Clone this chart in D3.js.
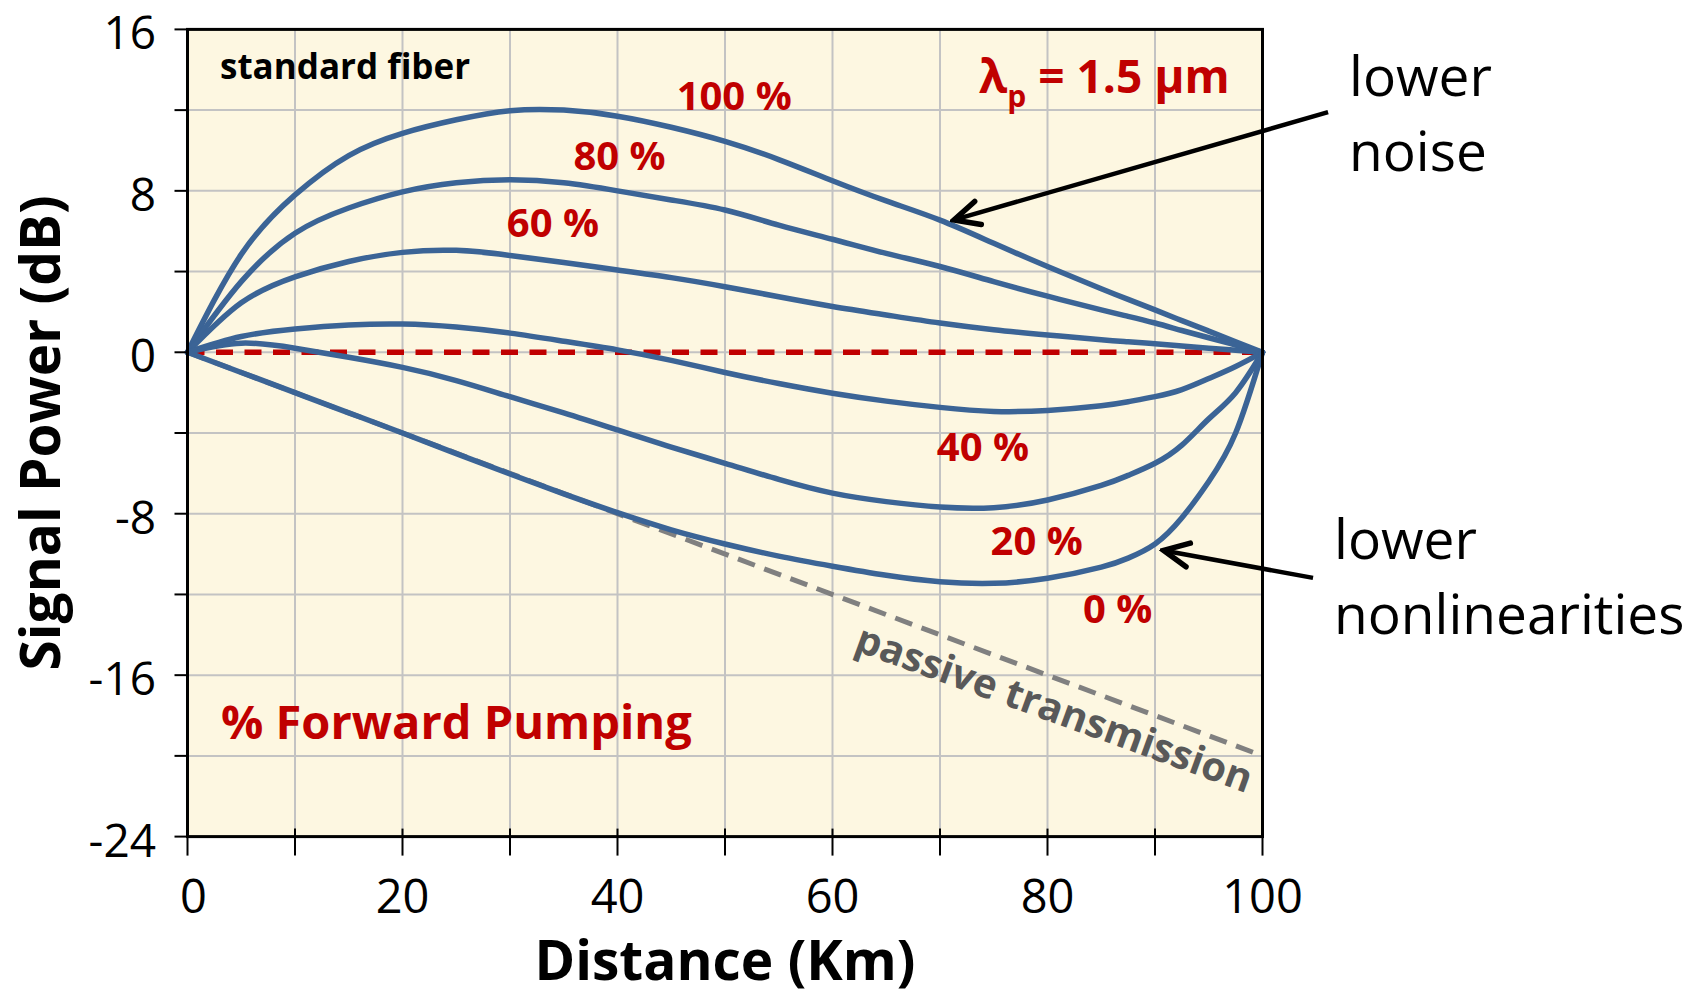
<!DOCTYPE html>
<html>
<head>
<meta charset="utf-8">
<script src="https://cdn.jsdelivr.net/npm/d3@7"></script>
<style>
  html, body { margin: 0; padding: 0; background: #fff; }
  svg text { font-family: "Open Sans", sans-serif; }
</style>
</head>
<body>
<svg id="chart" width="1693" height="997"></svg>
<script>
"use strict";

// distance along the fiber (km)
const distance = [0, 5, 10, 15, 20, 25, 30, 35, 40, 45, 50, 55, 60, 65, 70, 75, 80, 85, 87.5, 90, 92.5, 95, 97.5, 100];

// signal power (dB) for each share of forward pumping
const fwd100 = [0, 4.85, 7.8, 9.75, 10.85, 11.52, 11.97, 12.0, 11.7, 11.15, 10.45, 9.55, 8.5, 7.5, 6.55, 5.4, 4.25, 3.15, 2.62, 2.1, 1.57, 1.05, 0.52, 0];
const fwd80  = [0, 3.5, 5.9, 7.15, 7.95, 8.4, 8.55, 8.4, 8.0, 7.55, 7.05, 6.3, 5.6, 4.9, 4.25, 3.5, 2.78, 2.1, 1.78, 1.45, 1.08, 0.72, 0.36, 0];
const fwd60  = [0, 2.45, 3.74, 4.5, 4.95, 5.05, 4.8, 4.45, 4.08, 3.7, 3.25, 2.75, 2.27, 1.85, 1.45, 1.12, 0.86, 0.62, 0.52, 0.42, 0.31, 0.2, 0.1, 0];
const fwd40  = [0, 0.78, 1.15, 1.35, 1.4, 1.25, 0.95, 0.55, 0.12, -0.4, -1.0, -1.55, -2.03, -2.42, -2.73, -2.93, -2.88, -2.65, -2.45, -2.2, -1.85, -1.3, -0.7, 0];
const fwd20  = [0, 0.45, 0.2, -0.25, -0.75, -1.4, -2.2, -3.0, -3.85, -4.7, -5.5, -6.3, -6.98, -7.4, -7.67, -7.7, -7.32, -6.6, -6.1, -5.5, -4.6, -3.3, -2.0, 0];
const fwd0   = [0, -1.0, -2.0, -3.0, -4.0, -5.02, -6.03, -7.02, -7.95, -8.8, -9.5, -10.1, -10.6, -11.05, -11.37, -11.45, -11.2, -10.65, -10.2, -9.5, -8.2, -6.4, -4.0, 0];

const seriesNames = ["100 %", "80 %", "60 %", "40 %", "20 %", "0 %"];
const seriesValues = [fwd100, fwd80, fwd60, fwd40, fwd20, fwd0];

// passive transmission (0.2 dB/km loss) and the 0 dB reference
const passiveDistance = [0, 100];
const passivePower = [0, -20];
const referencePower = [0, 0];

const xTicks = [0, 10, 20, 30, 40, 50, 60, 70, 80, 90, 100];
const xTickLabels = [0, 20, 40, 60, 80, 100];
const yTicks = [-24, -20, -16, -12, -8, -4, 0, 4, 8, 12, 16];
const yTickLabels = [-24, -16, -8, 0, 8, 16];

const svg = d3.select("#chart");

const plotLeft = 187.5, plotRight = 1262.5, plotTop = 29.4, plotBottom = 836.6;
const x = d3.scaleLinear().domain([0, 100]).range([plotLeft, plotRight]);
const y = d3.scaleLinear().domain([-24, 16]).range([plotBottom, plotTop]);

const blue = "#3b6496";
const red = "#c00000";

// plot background
svg.append("rect")
  .attr("x", plotLeft).attr("y", plotTop)
  .attr("width", plotRight - plotLeft).attr("height", plotBottom - plotTop)
  .attr("fill", "#fdf7e1");

// grid
const grid = svg.append("g").attr("stroke", "#c3c3c3").attr("stroke-width", 2);
grid.selectAll(".vg").data(xTicks.slice(1, -1)).enter().append("line")
  .attr("x1", d => x(d)).attr("x2", d => x(d))
  .attr("y1", plotTop).attr("y2", plotBottom);
grid.selectAll(".hg").data(yTicks.slice(1, -1)).enter().append("line")
  .attr("x1", plotLeft).attr("x2", plotRight)
  .attr("y1", d => y(d)).attr("y2", d => y(d));

const line = d3.line()
  .x(d => x(d[0]))
  .y(d => y(d[1]));

// passive transmission
svg.append("path")
  .datum(d3.zip(passiveDistance, passivePower))
  .attr("d", line)
  .attr("fill", "none")
  .attr("stroke", "#808080")
  .attr("stroke-width", 5)
  .attr("stroke-dasharray", "18 10");

// 0 dB reference
svg.append("path")
  .datum(d3.zip(passiveDistance, referencePower))
  .attr("d", line)
  .attr("fill", "none")
  .attr("stroke", red)
  .attr("stroke-width", 5.5)
  .attr("stroke-dasharray", "17 11.5");

// pumping curves
const smooth = d3.line()
  .x(d => x(d[0]))
  .y(d => y(d[1]))
  .curve(d3.curveNatural);

svg.selectAll(".curve")
  .data(seriesValues)
  .enter()
  .append("path")
  .attr("class", "curve")
  .attr("d", v => smooth(d3.zip(distance, v)))
  .attr("fill", "none")
  .attr("stroke", blue)
  .attr("stroke-width", 5.5)
  .attr("stroke-linecap", "round");

// frame
svg.append("rect")
  .attr("x", plotLeft).attr("y", plotTop)
  .attr("width", plotRight - plotLeft).attr("height", plotBottom - plotTop)
  .attr("fill", "none")
  .attr("stroke", "#000")
  .attr("stroke-width", 3);

// ticks
const ticks = svg.append("g").attr("stroke", "#000").attr("stroke-width", 2);
ticks.selectAll(".yt").data(yTicks).enter().append("line")
  .attr("x1", plotLeft - 13).attr("x2", plotLeft)
  .attr("y1", d => y(d)).attr("y2", d => y(d));
ticks.selectAll(".xt").data(xTicks).enter().append("line")
  .attr("x1", d => x(d)).attr("x2", d => x(d))
  .attr("y1", plotBottom - 8).attr("y2", plotBottom + 19);

// tick labels
svg.selectAll(".yl").data(yTickLabels).enter().append("text")
  .attr("x", 156)
  .attr("y", d => y(d) + 20)
  .attr("text-anchor", "end")
  .attr("font-size", 46)
  .attr("fill", "#000")
  .text(d => d);

svg.selectAll(".xl").data(xTickLabels).enter().append("text")
  .attr("x", d => x(d) + (d === 0 ? 6 : 0))
  .attr("y", 913)
  .attr("text-anchor", "middle")
  .attr("font-size", 47)
  .attr("fill", "#000")
  .text(d => d);

// axis titles
svg.append("text")
  .attr("x", (plotLeft + plotRight) / 2)
  .attr("y", 980)
  .attr("text-anchor", "middle")
  .attr("font-size", 55)
  .attr("font-weight", "bold")
  .text("Distance (Km)");

svg.append("text")
  .attr("transform", `translate(60,${(plotTop + plotBottom) / 2}) rotate(-90)`)
  .attr("text-anchor", "middle")
  .attr("font-size", 55)
  .attr("font-weight", "bold")
  .text("Signal Power (dB)");

// curve labels, placed in data units (baseline start)
const labelAt = [[45.5, 12.0], [35.9, 9.03], [29.7, 5.73], [69.7, -5.37], [74.7, -10.04], [83.3, -13.4]];
svg.selectAll(".cl").data(seriesNames).enter().append("text")
  .attr("x", (_, i) => x(labelAt[i][0]))
  .attr("y", (_, i) => y(labelAt[i][1]))
  .attr("font-size", 40)
  .attr("font-weight", "bold")
  .attr("fill", red)
  .text(s => s);

svg.append("text")
  .attr("x", 220).attr("y", 79)
  .attr("font-size", 35)
  .attr("font-weight", "bold")
  .attr("fill", "#000")
  .text("standard fiber");

const lam = svg.append("text")
  .attr("x", 979).attr("y", 93)
  .attr("font-size", 46)
  .attr("font-weight", "bold")
  .attr("fill", red);
lam.append("tspan").text("λ");
lam.append("tspan").attr("font-size", 30).attr("dy", 14).text("p");
lam.append("tspan").attr("dy", -14).text(" = 1.5 µm");

svg.append("text")
  .attr("x", 221).attr("y", 739)
  .attr("font-size", 47)
  .attr("font-weight", "bold")
  .attr("fill", red)
  .text("% Forward Pumping");

svg.append("text")
  .attr("transform", "translate(853,650) rotate(20)")
  .attr("font-size", 40)
  .attr("font-weight", "bold")
  .attr("fill", "#595959")
  .text("passive transmission");

// side notes
const notes = [["lower", 1349, 96], ["noise", 1349, 170.5], ["lower", 1334, 559], ["nonlinearities", 1334, 634]];
svg.selectAll(".note").data(notes).enter().append("text")
  .attr("x", d => d[1]).attr("y", d => d[2])
  .attr("font-size", 55)
  .attr("fill", "#000")
  .text(d => d[0]);

// arrows (tail -> tip, data units)
svg.append("defs").append("marker")
  .attr("id", "head")
  .attr("markerUnits", "userSpaceOnUse")
  .attr("viewBox", "-32 -16 36 32")
  .attr("refX", 0).attr("refY", 0)
  .attr("markerWidth", 36).attr("markerHeight", 32)
  .attr("orient", "auto")
  .append("path")
  .attr("d", "M-25,-12 L0,0 L-25,12")
  .attr("fill", "none")
  .attr("stroke", "#000")
  .attr("stroke-width", 5.5)
  .attr("stroke-linecap", "round")
  .attr("stroke-linejoin", "miter");

const arrows = [[[106.1, 11.9], [71.3, 6.56]], [[104.7, -11.18], [90.8, -9.82]]];
svg.selectAll(".arrow").data(arrows).enter().append("path")
  .attr("d", a => line(a))
  .attr("fill", "none")
  .attr("stroke", "#000")
  .attr("stroke-width", 4.5)
  .attr("marker-end", "url(#head)");
</script>
</body>
</html>
